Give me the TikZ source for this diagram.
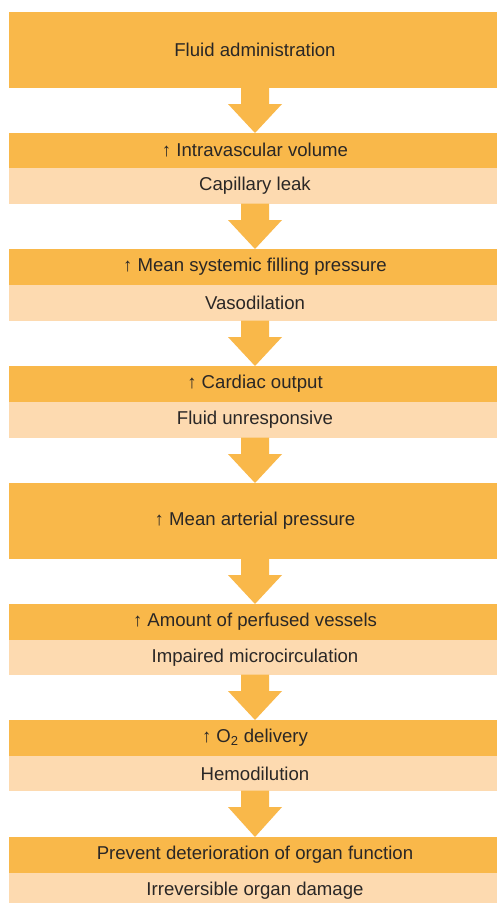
\documentclass[tikz,border=0pt]{standalone}
\usepackage{fontspec}
\setmainfont{Liberation Sans}
\usetikzlibrary{calc}
\definecolor{dark}{HTML}{F9B84A}
\definecolor{light}{HTML}{FDDAB0}
\definecolor{txt}{HTML}{2A2726}
\tikzset{
  box/.style={fill=dark, minimum width=492pt, inner sep=0pt, outer sep=0pt, text=txt,
    font=\fontsize{18.6}{22}\selectfont, anchor=north},
  lbox/.style={box, fill=light},
}
\newcommand\fatarrow[2]{%
  \fill[dark] ($(#1.south)+(-14,-0.5)$) -- ($(#1.south)+(-14,16)$) -- ($(#1.south)+(-27,16)$)
    -- (#2.north) -- ($(#1.south)+(27,16)$) -- ($(#1.south)+(14,16)$)
    -- ($(#1.south)+(14,-0.5)$) -- cycle;}
\begin{document}
\begin{tikzpicture}[x=1pt,y=-1pt]
\fill[white] (0,0) rectangle (497,903);
\useasboundingbox (0,0) rectangle (497,903);
\node[box, minimum height=76pt] (b1) at (255,12) {Fluid administration};
\node[box, minimum height=35pt] (b2) at (255,133) {↑ Intravascular volume};
\node[lbox, minimum height=36pt] (l2) at (255,168) {Capillary leak};
\node[box, minimum height=36pt] (b3) at (255,249) {↑ Mean systemic filling pressure};
\node[lbox, minimum height=36pt] (l3) at (255,285) {Vasodilation};
\node[box, minimum height=36pt] (b4) at (255,366) {↑ Cardiac output};
\node[lbox, minimum height=36pt] (l4) at (255,402) {Fluid unresponsive};
\node[box, minimum height=76pt] (b5) at (255,483) {↑ Mean arterial pressure};
\node[box, minimum height=36pt] (b6) at (255,604) {↑ Amount of perfused vessels};
\node[lbox, minimum height=35pt] (l6) at (255,640) {Impaired microcirculation};
\node[box, minimum height=36pt] (b7) at (255,720) {↑ O\textsubscript{2} delivery};
\node[lbox, minimum height=35pt] (l7) at (255,756) {Hemodilution};
\node[box, minimum height=36pt] (b8) at (255,837) {Prevent deterioration of organ function};
\node[lbox, minimum height=36pt] (l8) at (255,873) {Irreversible organ damage};
\fatarrow{b1}{b2}
\fatarrow{l2}{b3}
\fatarrow{l3}{b4}
\fatarrow{l4}{b5}
\fatarrow{b5}{b6}
\fatarrow{l6}{b7}
\fatarrow{l7}{b8}
\end{tikzpicture}
\end{document}
